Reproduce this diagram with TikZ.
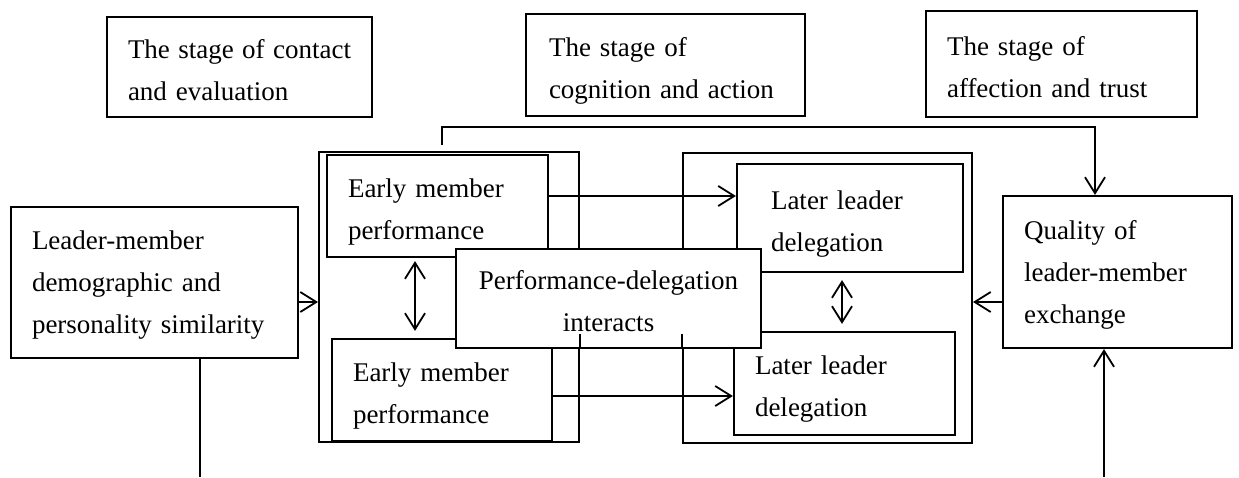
\documentclass[tikz,border=0pt]{standalone}
\usepackage{fontspec}
\setmainfont{Liberation Serif}
\usepackage{tikz}
\usetikzlibrary{arrows.meta}

\begin{document}
\begin{tikzpicture}
        [x=1pt, y=-1pt, line width=1.8pt,
         >={Straight Barb[length=16pt,width=20pt]},
         box/.style={draw, line width=2.2pt, fill=white, align=left,
           inner xsep=21pt, inner ysep=0pt, font=\fontsize{27}{42}\selectfont,
           text height=19pt, text depth=37pt},
         three/.style={text depth=85pt},
         frame/.style={draw, line width=2pt, inner sep=0pt}]
      \useasboundingbox (0,0) rectangle (1239,477);
      % frames round the two middle stages
      \node[frame, minimum width=260pt, minimum height=290pt] (FA) at (449,297) {};
      \node[frame, minimum width=289pt, minimum height=290pt] (FB) at (827.5,298) {};
      % stage titles
      \node[box, text width=223pt, minimum height=100pt] (S1) at (239.5,67)
        {The\hfill stage\hfill of\hfill contact\\and evaluation};
      \node[box, inner xsep=23pt, text width=233pt, minimum height=102pt] (S2) at (665.5,65)
        {The stage of\\cognition and action};
      \node[box, text width=229pt, minimum height=106pt] (S3) at (1061.5,64)
        {The stage of\\affection and trust};
      % blocks
      \node[box, three, text width=245pt, minimum height=151pt] (LM) at (154.5,282.5)
        {Leader-member\\demographic and\\personality similarity};
      \node[box, text width=179pt, minimum height=102pt] (E1) at (437.5,206)
        {Early member\\performance};
      \node[box, text width=178pt, minimum height=102pt] (E2) at (442,390)
        {Early member\\performance};
      \node[box, inner xsep=34pt, text width=158pt, minimum height=108pt] (L1) at (850,218)
        {Later leader\\delegation};
      \node[box, text width=179pt, minimum height=103pt] (L2) at (844.5,383.5)
        {Later leader\\delegation};
      \node[box, three, text width=187pt, minimum height=152pt] (Q) at (1117.5,272)
        {Quality of\\leader-member\\exchange};
      \coordinate (topl) at (442,127);
      \coordinate (lmout) at (200,477);
      \coordinate (qin) at (1104,477);
      % connectors
      \path [->] ([yshift=-19.5pt]LM.east) edge ([yshift=-19.5pt]LM.east -| FA.west);
      \draw (lmout |- LM.south) -- (lmout);
      \path [->] ([yshift=10pt]E1.east) edge ([yshift=10pt]E1.east -| L1.west);
      \path [->] ([yshift=-6pt]E2.east) edge ([yshift=-6pt]E2.east -| L2.west);
      \draw [<->, shorten <=3pt, shorten >=7pt] ([xshift=-22.5pt]E1.south)
        -- ([xshift=-22.5pt]E1.south |- E2.north);
      \draw [<->, shorten <=7pt, shorten >=7pt] ([xshift=-8pt]L1.south)
        -- ([xshift=-8pt]L1.south |- L2.north);
      \draw [->, shorten <=6pt] (topl |- FA.north) -- (topl) -| ([xshift=-22.5pt]Q.north);
      \path [->] ([yshift=-30pt]Q.west) edge ([yshift=-30pt]Q.west -| FB.east);
      \path [->] (qin) edge (qin |- Q.south);
      % the interaction box lies over both stages
      \node[box, align=center, inner xsep=7.5pt, text width=290pt, minimum height=99pt] (PD)
        at (608.5,298.5) {Performance-delegation\\interacts};
      \draw ([yshift=15pt]PD.south -| FA.east) -- (PD.south -| FA.east);
      \draw ([yshift=15pt]PD.south -| FB.west) -- (PD.south -| FB.west);
\end{tikzpicture}
\end{document}
